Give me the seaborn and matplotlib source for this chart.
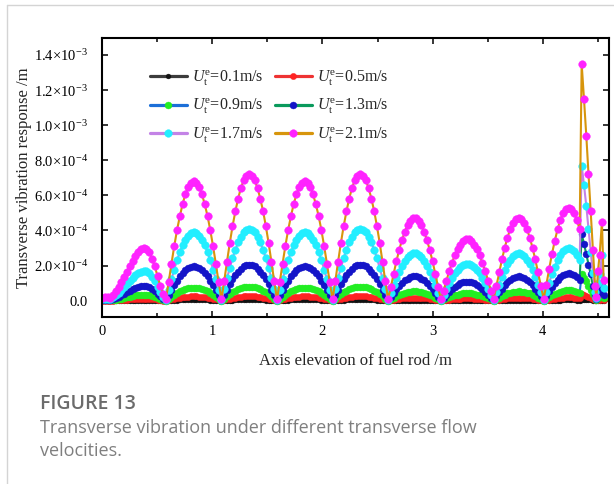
import numpy as np
import matplotlib.pyplot as plt
from matplotlib.lines import Line2D
import seaborn as sns

# --- data ---
# axis elevation of the fuel rod (m)
x_pos = [
    0.000, 0.025, 0.050, 0.076, 0.101, 0.126, 0.151, 0.176, 0.202, 0.227,
    0.252, 0.277, 0.302, 0.328, 0.353, 0.378, 0.403, 0.428, 0.454, 0.479,
    0.504, 0.529, 0.554, 0.580, 0.605, 0.630, 0.655, 0.680, 0.706, 0.731,
    0.756, 0.781, 0.806, 0.832, 0.857, 0.882, 0.907, 0.932, 0.958, 0.983,
    1.008, 1.033, 1.058, 1.084, 1.109, 1.134, 1.159, 1.184, 1.210, 1.235,
    1.260, 1.285, 1.310, 1.336, 1.361, 1.386, 1.411, 1.436, 1.462, 1.487,
    1.512, 1.537, 1.562, 1.588, 1.613, 1.638, 1.663, 1.688, 1.714, 1.739,
    1.764, 1.789, 1.814, 1.840, 1.865, 1.890, 1.915, 1.940, 1.966, 1.991,
    2.016, 2.041, 2.066, 2.092, 2.117, 2.142, 2.167, 2.192, 2.218, 2.243,
    2.268, 2.293, 2.318, 2.344, 2.369, 2.394, 2.419, 2.444, 2.470, 2.495,
    2.520, 2.545, 2.570, 2.596, 2.621, 2.646, 2.671, 2.696, 2.722, 2.747,
    2.772, 2.797, 2.822, 2.848, 2.873, 2.898, 2.923, 2.948, 2.974, 2.999,
    3.024, 3.049, 3.074, 3.100, 3.125, 3.150, 3.175, 3.200, 3.226, 3.251,
    3.276, 3.301, 3.326, 3.352, 3.377, 3.402, 3.427, 3.452, 3.478, 3.503,
    3.528, 3.553, 3.578, 3.604, 3.629, 3.654, 3.679, 3.704, 3.730, 3.755,
    3.780, 3.805, 3.830, 3.856, 3.881, 3.906, 3.931, 3.956, 3.982, 4.007,
    4.032, 4.057, 4.082, 4.108, 4.133, 4.158, 4.183, 4.208, 4.234, 4.259,
    4.284, 4.309, 4.334,
    4.352, 4.373, 4.394, 4.414, 4.434, 4.454, 4.474, 4.486, 4.500, 4.515,
    4.536, 4.551,
]

# transverse vibration response, in units of 1e-5 m
u01 = ([0, 0, 0, 0, 0, 0, 0, 0, 0.1, 0.1, 0.1, 0.1, 0.1, 0.1, 0.1, 0.1, 0.1, 0.1, 0.1, 0.1, 0.1, 0, 0, 0]
       + [0.02, 0.05, 0.07, 0.09, 0.11, 0.12, 0.13, 0.14, 0.15, 0.15, 0.15, 0.14, 0.13, 0.12, 0.11, 0.09, 0.07, 0.05, 0.02, 0.0]
       + [0.02, 0.05, 0.07, 0.09, 0.11, 0.12, 0.13, 0.14, 0.15, 0.15, 0.15, 0.14, 0.13, 0.12, 0.11, 0.09, 0.07, 0.05, 0.02, 0.0]
       + [0.02, 0.05, 0.07, 0.09, 0.11, 0.12, 0.13, 0.14, 0.15, 0.15, 0.15, 0.14, 0.13, 0.12, 0.11, 0.09, 0.07, 0.05, 0.02, 0.0]
       + [0.02, 0.05, 0.07, 0.09, 0.11, 0.12, 0.13, 0.14, 0.15, 0.15, 0.15, 0.14, 0.13, 0.12, 0.11, 0.09, 0.07, 0.05, 0.02, 0.0]
       + [0.02, 0.03, 0.05, 0.06, 0.07, 0.08, 0.09, 0.1, 0.1, 0.1, 0.1, 0.09, 0.08, 0.07, 0.06, 0.05, 0.03, 0.02, 0.0]
       + [0.01, 0.03, 0.04, 0.05, 0.06, 0.07, 0.07, 0.08, 0.08, 0.08, 0.08, 0.07, 0.07, 0.06, 0.05, 0.04, 0.03, 0.01, 0.0]
       + [0.02, 0.03, 0.05, 0.06, 0.08, 0.09, 0.09, 0.1, 0.1, 0.1, 0.09, 0.09, 0.08, 0.06, 0.05, 0.03, 0.02, 0.0]
       + [0.02, 0.04, 0.06, 0.08, 0.09, 0.1, 0.11, 0.12, 0.12, 0.12, 0.11, 0.1, 0.09]
       + [0.3, 0.25, 0.2, 0.16, 0.12, 0.07, 0.03, 0.01, 0.03, 0.05, 0.07, 0.03])

u05 = ([0.1, 0.1, 0.1, 0.1, 0.1, 0.2, 0.3, 0.4, 0.5, 0.6, 0.7, 0.8, 0.9, 0.9, 1.0, 1.0, 1.0, 0.9, 0.8, 0.7, 0.5, 0.3, 0.1, 0.0]
       + [0.4, 0.7, 1.1, 1.4, 1.7, 1.9, 2.1, 2.3, 2.4, 2.4, 2.4, 2.3, 2.1, 1.9, 1.7, 1.4, 1.1, 0.7, 0.4, 0.0]
       + [0.4, 0.8, 1.1, 1.5, 1.8, 2.0, 2.2, 2.4, 2.5, 2.5, 2.5, 2.4, 2.2, 2.0, 1.8, 1.5, 1.1, 0.8, 0.4, 0.0]
       + [0.4, 0.7, 1.1, 1.4, 1.7, 1.9, 2.1, 2.3, 2.4, 2.4, 2.4, 2.3, 2.1, 1.9, 1.7, 1.4, 1.1, 0.7, 0.4, 0.0]
       + [0.4, 0.8, 1.1, 1.5, 1.8, 2.0, 2.2, 2.4, 2.5, 2.5, 2.5, 2.4, 2.2, 2.0, 1.8, 1.5, 1.1, 0.8, 0.4, 0.0]
       + [0.3, 0.6, 0.8, 1.0, 1.3, 1.4, 1.6, 1.6, 1.7, 1.7, 1.6, 1.6, 1.4, 1.3, 1.0, 0.8, 0.6, 0.3, 0.0]
       + [0.2, 0.4, 0.6, 0.8, 1.0, 1.1, 1.2, 1.3, 1.3, 1.3, 1.3, 1.2, 1.1, 1.0, 0.8, 0.6, 0.4, 0.2, 0.0]
       + [0.3, 0.6, 0.9, 1.1, 1.3, 1.5, 1.6, 1.7, 1.7, 1.7, 1.6, 1.5, 1.3, 1.1, 0.9, 0.6, 0.3, 0.0]
       + [0.3, 0.6, 1.0, 1.2, 1.5, 1.6, 1.8, 1.9, 1.9, 1.9, 1.8, 1.6, 1.5]
       + [4.0, 3.5, 2.8, 2.2, 1.6, 1.0, 0.5, 0.2, 0.4, 0.6, 1.0, 0.4])

u09 = ([0.2, 0.3, 0.3, 0.2, 0.4, 0.6, 0.9, 1.2, 1.6, 1.9, 2.3, 2.6, 3.0, 3.2, 3.4, 3.5, 3.4, 3.2, 2.8, 2.3, 1.6, 1.0, 0.5, 0.1]
       + [1.2, 2.3, 3.4, 4.4, 5.3, 6.1, 6.7, 7.1, 7.4, 7.5, 7.4, 7.1, 6.7, 6.1, 5.3, 4.4, 3.4, 2.3, 1.2, 0.1]
       + [1.2, 2.5, 3.6, 4.7, 5.7, 6.5, 7.1, 7.6, 7.9, 8.0, 7.9, 7.6, 7.1, 6.5, 5.7, 4.7, 3.6, 2.5, 1.2, 0.1]
       + [1.2, 2.3, 3.4, 4.4, 5.3, 6.1, 6.7, 7.1, 7.4, 7.5, 7.4, 7.1, 6.7, 6.1, 5.3, 4.4, 3.4, 2.3, 1.2, 0.1]
       + [1.2, 2.5, 3.6, 4.7, 5.7, 6.5, 7.1, 7.6, 7.9, 8.0, 7.9, 7.6, 7.1, 6.5, 5.7, 4.7, 3.6, 2.5, 1.2, 0.1]
       + [0.9, 1.7, 2.5, 3.3, 3.9, 4.4, 4.8, 5.1, 5.3, 5.3, 5.1, 4.8, 4.4, 3.9, 3.3, 2.5, 1.7, 0.9, 0.1]
       + [0.7, 1.4, 2.0, 2.6, 3.1, 3.5, 3.8, 4.1, 4.2, 4.2, 4.1, 3.8, 3.5, 3.1, 2.6, 2.0, 1.4, 0.7, 0.1]
       + [0.9, 1.8, 2.7, 3.4, 4.1, 4.6, 5.0, 5.2, 5.3, 5.2, 5.0, 4.6, 4.1, 3.4, 2.7, 1.8, 0.9, 0.1]
       + [1.0, 2.1, 3.0, 3.9, 4.6, 5.2, 5.6, 5.9, 6.0, 5.9, 5.6, 5.2, 4.6]
       + [15, 13, 11, 8.5, 6.0, 4.0, 2.0, 0.5, 1.5, 2.5, 4.0, 1.5])

u13 = ([0.4, 0.6, 0.6, 0.4, 1.0, 1.6, 2.3, 3.0, 3.8, 4.7, 5.5, 6.4, 7.2, 7.9, 8.3, 8.5, 8.4, 7.8, 6.8, 5.5, 4.0, 2.4, 1.1, 0.3]
       + [3.0, 6.0, 8.9, 11.5, 13.8, 15.8, 17.4, 18.5, 19.3, 19.5, 19.3, 18.5, 17.4, 15.8, 13.8, 11.5, 8.9, 6.0, 3.0, 0.3]
       + [3.2, 6.3, 9.3, 12.1, 14.5, 16.6, 18.3, 19.5, 20.3, 20.5, 20.3, 19.5, 18.3, 16.6, 14.5, 12.1, 9.3, 6.3, 3.2, 0.3]
       + [3.0, 6.0, 8.9, 11.5, 13.8, 15.8, 17.4, 18.5, 19.3, 19.5, 19.3, 18.5, 17.4, 15.8, 13.8, 11.5, 8.9, 6.0, 3.0, 0.3]
       + [3.2, 6.3, 9.3, 12.1, 14.5, 16.6, 18.3, 19.5, 20.3, 20.5, 20.3, 19.5, 18.3, 16.6, 14.5, 12.1, 9.3, 6.3, 3.2, 0.3]
       + [2.3, 4.5, 6.6, 8.5, 10.2, 11.6, 12.6, 13.4, 13.8, 13.8, 13.4, 12.6, 11.6, 10.2, 8.5, 6.6, 4.5, 2.3, 0.3]
       + [1.8, 3.5, 5.1, 6.6, 7.9, 9.0, 9.9, 10.5, 10.8, 10.8, 10.5, 9.9, 9.0, 7.9, 6.6, 5.1, 3.5, 1.8, 0.3]
       + [2.4, 4.7, 6.9, 8.9, 10.6, 12.0, 13.0, 13.6, 13.8, 13.6, 13.0, 12.0, 10.6, 8.9, 6.9, 4.7, 2.4, 0.3]
       + [2.7, 5.3, 7.8, 10.0, 11.9, 13.4, 14.6, 15.3, 15.5, 15.3, 14.6, 13.4, 11.9]
       + [38, 32.5, 26.5, 20.5, 15, 8.5, 3.0, 1.0, 4.0, 6.0, 9.0, 3.0])

u17 = ([0.9, 1.2, 1.2, 0.9, 2.0, 3.1, 4.5, 6.0, 7.7, 9.4, 11.1, 12.8, 14.5, 15.8, 16.6, 17.0, 16.7, 15.6, 13.6, 11.1, 7.9, 4.8, 2.3, 0.5]
       + [6.1, 12.1, 17.7, 22.9, 27.6, 31.6, 34.7, 37.1, 38.5, 39.0, 38.5, 37.1, 34.7, 31.6, 27.6, 22.9, 17.7, 12.1, 6.1, 0.5]
       + [6.4, 12.7, 18.6, 24.1, 29.0, 33.2, 36.5, 39.0, 40.5, 41.0, 40.5, 39.0, 36.5, 33.2, 29.0, 24.1, 18.6, 12.7, 6.4, 0.5]
       + [6.1, 12.1, 17.7, 22.9, 27.6, 31.6, 34.7, 37.1, 38.5, 39.0, 38.5, 37.1, 34.7, 31.6, 27.6, 22.9, 17.7, 12.1, 6.1, 0.5]
       + [6.4, 12.7, 18.6, 24.1, 29.0, 33.2, 36.5, 39.0, 40.5, 41.0, 40.5, 39.0, 36.5, 33.2, 29.0, 24.1, 18.6, 12.7, 6.4, 0.5]
       + [4.5, 8.8, 12.9, 16.6, 19.9, 22.6, 24.7, 26.2, 26.9, 26.9, 26.2, 24.7, 22.6, 19.9, 16.6, 12.9, 8.8, 4.5, 0.5]
       + [3.5, 6.8, 10.0, 12.9, 15.5, 17.6, 19.2, 20.3, 20.9, 20.9, 20.3, 19.2, 17.6, 15.5, 12.9, 10.0, 6.8, 3.5, 0.5]
       + [4.7, 9.2, 13.5, 17.4, 20.7, 23.4, 25.4, 26.6, 27.0, 26.6, 25.4, 23.4, 20.7, 17.4, 13.5, 9.2, 4.7, 0.5]
       + [5.2, 10.3, 15.0, 19.3, 23.0, 26.0, 28.2, 29.6, 30.0, 29.6, 28.2, 26.0, 23.0]
       + [77, 66, 54, 41, 28, 16, 5.0, 1.5, 10, 15, 26, 7])

u21 = ([1.5, 2.2, 2.2, 1.5, 3.5, 5.5, 8.0, 10.5, 13.5, 16.5, 19.5, 22.5, 25.5, 27.8, 29.3, 30.0, 29.5, 27.5, 24.0, 19.5, 14.0, 8.5, 4.0, 1.0]
       + [10.6, 21.0, 30.9, 40.0, 48.1, 55.0, 60.6, 64.7, 67.2, 68.0, 67.2, 64.7, 60.6, 55.0, 48.1, 40.0, 30.9, 21.0, 10.6, 1.0]
       + [11.2, 22.2, 32.7, 42.3, 50.9, 58.2, 64.2, 68.5, 71.1, 72.0, 71.1, 68.5, 64.2, 58.2, 50.9, 42.3, 32.7, 22.2, 11.2, 1.0]
       + [10.6, 21.0, 30.9, 40.0, 48.1, 55.0, 60.6, 64.7, 67.2, 68.0, 67.2, 64.7, 60.6, 55.0, 48.1, 40.0, 30.9, 21.0, 10.6, 1.0]
       + [11.2, 22.2, 32.7, 42.3, 50.9, 58.2, 64.2, 68.5, 71.1, 72.0, 71.1, 68.5, 64.2, 58.2, 50.9, 42.3, 32.7, 22.2, 11.2, 1.0]
       + [7.8, 15.3, 22.4, 28.9, 34.6, 39.3, 43.0, 45.5, 46.9, 46.9, 45.5, 43.0, 39.3, 34.6, 28.9, 22.4, 15.3, 7.8, 1.0]
       + [5.8, 11.4, 16.7, 21.5, 25.8, 29.3, 32.0, 33.9, 34.9, 34.9, 33.9, 32.0, 29.3, 25.8, 21.5, 16.7, 11.4, 5.8, 1.0]
       + [8.2, 16.1, 23.5, 30.2, 36.0, 40.7, 44.2, 46.3, 47.0, 46.3, 44.2, 40.7, 36.0, 30.2, 23.5, 16.1, 8.2, 1.0]
       + [9.2, 18.1, 26.5, 34.1, 40.6, 45.9, 49.8, 52.2, 53.0, 52.2, 49.8, 45.9, 40.6]
       + [135, 115, 94, 72, 51, 29, 8.5, 2.0, 17, 26, 45, 12])

labels = ['0.1m/s', '0.5m/s', '0.9m/s', '1.3m/s', '1.7m/s', '2.1m/s']
series = [u01, u05, u09, u13, u17, u21]
line_colors = ['#3c3c3c', '#ee3333', '#1c6fd8', '#0a9a5c', '#c383e6', '#d7950c']
marker_colors = ['#111111', '#ff2222', '#22ee22', '#1414c8', '#22eeff', '#ff22ff']
marker_sizes = [3.5, 4.5, 5, 5, 5.5, 5.5]

y_ticks = [0, 2e-4, 4e-4, 6e-4, 8e-4, 1.0e-3, 1.2e-3, 1.4e-3]
y_ticklabels = ['0.0', '2.0×10$^{-4}$', '4.0×10$^{-4}$', '6.0×10$^{-4}$', '8.0×10$^{-4}$',
                '1.0×10$^{-3}$', '1.2×10$^{-3}$', '1.4×10$^{-3}$']
x_ticks = [0, 1, 2, 3, 4]

sns.set_theme(style='ticks')
plt.rcParams['font.family'] = ['Liberation Serif', 'DejaVu Serif']
plt.rcParams['mathtext.fontset'] = 'custom'
plt.rcParams['mathtext.rm'] = 'Liberation Serif'
plt.rcParams['mathtext.it'] = 'Liberation Serif:italic'
plt.rcParams['mathtext.bf'] = 'Liberation Serif:bold'

fig = plt.figure(figsize=(6.14, 4.84), dpi=100)
ax = fig.add_axes([102 / 614, 1 - 317 / 484, 507 / 614, 279 / 484])

for vals, lab, lc, mc, ms in zip(series, labels, line_colors, marker_colors, marker_sizes):
    sns.lineplot(x=x_pos, y=np.array(vals) * 1e-5, ax=ax, color=lc, linewidth=1.5,
                 marker='o', markersize=ms, markerfacecolor=mc, markeredgecolor=mc,
                 markeredgewidth=0.3, estimator=None, sort=False,
                 label=r'$U_{\mathrm{t}}^{\mathrm{e}}$=' + lab)

h, l = ax.get_legend_handles_labels()
order = [0, 2, 4, 1, 3, 5]
leg = ax.legend([h[i] for i in order], [l[i] for i in order], ncol=2, frameon=False,
                loc='upper left', bbox_to_anchor=(48 / 507, 0.89), borderaxespad=0,
                borderpad=0, fontsize=11.5, handlelength=2.3, handletextpad=0.3,
                columnspacing=0.75, labelspacing=0.58)
for ln in leg.get_lines():
    ln.set_linewidth(2.3)

ax.set_xlim(0, 4.6)
ax.set_ylim(-0.93e-4, 1.497e-3)
ax.set_xticks(x_ticks)
ax.set_xticks([0.5, 1.5, 2.5, 3.5, 4.5], minor=True)
ax.set_yticks(y_ticks)
ax.set_yticklabels(y_ticklabels)
ax.tick_params(axis='both', which='both', direction='in', top=True, right=True,
               labelsize=10.5, colors='black')
ax.tick_params(axis='both', which='major', length=4.5, width=1.1)
ax.tick_params(axis='x', which='major', pad=6)
ax.tick_params(axis='y', which='major', pad=10)
ax.tick_params(axis='x', which='minor', length=2.8, width=1.1)
for sp in ax.spines.values():
    sp.set_linewidth(1.5)
    sp.set_color('black')

ax.set_xlabel('Axis elevation of fuel rod /m', fontsize=12)
ax.set_ylabel('Transverse vibration response /m', fontsize=12)
ax.xaxis.set_label_coords(0.5, -0.13)
ax.yaxis.set_label_coords(-0.138, 0.5)

# caption and page frame
fig.text(40 / 614, 1 - 409 / 484, 'FIGURE 13', fontsize=14, fontweight='semibold',
         color='#6b6b6b', family=['Open Sans', 'DejaVu Sans'], va='baseline')
fig.text(40 / 614, 1 - 433 / 484, 'Transverse vibration under different transverse flow',
         fontsize=13, color='#7f7f7f', family=['Open Sans', 'DejaVu Sans'], va='baseline')
fig.text(40 / 614, 1 - 456 / 484, 'velocities.', fontsize=13, color='#7f7f7f',
         family=['Open Sans', 'DejaVu Sans'], va='baseline')
fig.add_artist(Line2D([7 / 614, 7 / 614], [0, 1 - 5 / 484], color='#d4d4d4', lw=1.0))
fig.add_artist(Line2D([7 / 614, 1], [1 - 5 / 484, 1 - 5 / 484], color='#d4d4d4', lw=1.0))

fig.savefig('out.png', dpi=100)
